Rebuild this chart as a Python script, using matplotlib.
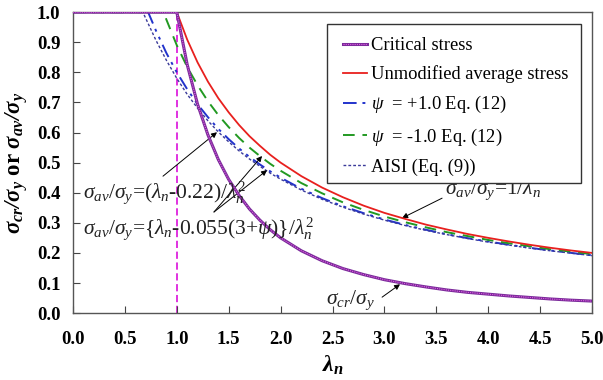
import matplotlib
matplotlib.use("Agg")
import matplotlib.pyplot as plt
from matplotlib.patches import Rectangle

plt.rcParams['font.family'] = ['Liberation Serif', 'DejaVu Serif']
plt.rcParams['mathtext.fontset'] = 'custom'
plt.rcParams['mathtext.rm'] = 'Liberation Serif'
plt.rcParams['mathtext.it'] = 'Liberation Serif:italic'
plt.rcParams['mathtext.bf'] = 'Liberation Serif:bold'
plt.rcParams['mathtext.bfit'] = 'Liberation Serif:italic:bold'

# ---- data ----
lam_main = [1.0, 1.1, 1.2, 1.3, 1.4, 1.5, 1.6, 1.7, 1.8, 1.9, 2.0,
            2.2, 2.4, 2.6, 2.8, 3.0, 3.2, 3.4, 3.6, 3.8, 4.0,
            4.2, 4.4, 4.6, 4.8, 5.0]

lam_cr = [0.0] + lam_main
critical = [1.000, 1.000, 0.826, 0.694, 0.592, 0.510, 0.444, 0.391, 0.346, 0.309, 0.277, 0.250,
            0.207, 0.174, 0.148, 0.128, 0.111, 0.098, 0.087, 0.077, 0.069, 0.063,
            0.057, 0.052, 0.047, 0.043, 0.040]

lam_un = [0.0] + lam_main
unmodified = [1.000, 1.000, 0.909, 0.833, 0.769, 0.714, 0.667, 0.625, 0.588, 0.556, 0.526, 0.500,
              0.455, 0.417, 0.385, 0.357, 0.333, 0.313, 0.294, 0.278, 0.263, 0.250,
              0.238, 0.227, 0.217, 0.208, 0.200]

lam_p1 = [0.0, 0.724, 0.8, 0.9] + lam_main
psi_plus = [1.000, 1.000, 0.938, 0.864, 0.800, 0.744, 0.694, 0.651, 0.612, 0.578, 0.547, 0.519, 0.494, 0.471, 0.450,
            0.413, 0.382, 0.355, 0.332, 0.311, 0.293, 0.277, 0.262, 0.249, 0.238,
            0.227, 0.217, 0.208, 0.200, 0.192]

lam_m1 = [0.0, 0.874, 0.9] + lam_main
psi_minus = [1.000, 1.000, 0.975, 0.890, 0.818, 0.757, 0.704, 0.658, 0.618, 0.582, 0.550, 0.522, 0.496, 0.473,
             0.432, 0.398, 0.368, 0.343, 0.321, 0.302, 0.285, 0.269, 0.256, 0.243,
             0.232, 0.222, 0.212, 0.204, 0.196]

lam_aisi = [0.0, 0.673, 0.7, 0.8, 0.9] + lam_main
aisi = [1.000, 1.000, 0.980, 0.906, 0.840, 0.780, 0.727, 0.681, 0.639, 0.602, 0.569, 0.539, 0.512, 0.488, 0.465, 0.445,
        0.409, 0.378, 0.352, 0.329, 0.309, 0.291, 0.275, 0.261, 0.248, 0.236,
        0.226, 0.216, 0.207, 0.199, 0.191]

xticks = [0.0, 0.5, 1.0, 1.5, 2.0, 2.5, 3.0, 3.5, 4.0, 4.5, 5.0]
yticks = [0.0, 0.1, 0.2, 0.3, 0.4, 0.5, 0.6, 0.7, 0.8, 0.9, 1.0]

# ---- figure ----
fig = plt.figure(figsize=(6.03, 3.80), dpi=100)
ax = fig.add_axes([0.121, 0.176, 0.861, 0.792])

ax.plot([1.0, 1.0], [0.0, 1.0], color='#DD22DD', lw=1.3, dashes=(4, 2), zorder=1)

cr1, = ax.plot(lam_cr, critical, color='#7A2A9A', lw=2.2, zorder=5)
cr2, = ax.plot(lam_cr, critical, color='#E060E0', lw=0.8, dashes=(1, 1), zorder=6)
un, = ax.plot(lam_un, unmodified, color='#E8201E', lw=1.3, zorder=4)
p1, = ax.plot(lam_p1, psi_plus, color='#2233CC', lw=1.4, dashes=(7, 3, 1.5, 3, 1.5, 3), zorder=3)
m1, = ax.plot(lam_m1, psi_minus, color='#229922', lw=1.4, dashes=(6, 4), zorder=3)
ai, = ax.plot(lam_aisi, aisi, color='#3A3A9A', lw=1.0, dashes=(2, 1.5), zorder=3)

ax.set_xlim(0, 5)
ax.set_ylim(0, 1)
ax.set_xticks(xticks)
ax.set_yticks(yticks)
ax.set_xticklabels([f'{v:.1f}' for v in xticks], fontsize=13.5, fontweight='bold')
ax.set_yticklabels([f'{v:.1f}' for v in yticks], fontsize=13.5, fontweight='bold')
ax.tick_params(axis='x', direction='in', length=5, width=0.8, pad=13, color='#444444')
ax.tick_params(axis='y', direction='in', length=5, width=0.8, pad=9, color='#444444')
for s in ax.spines.values():
    s.set_color('#555555')
    s.set_linewidth(1.0)

ax.set_xlabel(r'$\mathbfit{\lambda_n}$', fontsize=17, labelpad=4)
ax.set_ylabel(r'$\mathbfit{\sigma_{cr}/\sigma_y}$ or $\mathbfit{\sigma_{av}/\sigma_y}$',
              fontsize=16.5, fontweight='bold', labelpad=5)

leg = ax.legend([(cr1, cr2), un, p1, m1, ai],
                ['Critical stress', 'Unmodified average stress',
                 r'$\psi$  = +1.0 Eq. (12)', r'$\psi$  = -1.0 Eq. (12)', 'AISI (Eq. (9))'],
                loc='upper right', bbox_to_anchor=(0.979, 0.96), fontsize=13.3,
                frameon=False,
                handlelength=1.3, handletextpad=0.2, labelspacing=0.6, borderpad=0.7,
                borderaxespad=0)
ax.add_patch(Rectangle((0.489, 0.432), 0.490, 0.528, transform=ax.transAxes,
                       facecolor='white', edgecolor='#333333', lw=1.0, zorder=8))
leg.set_zorder(9)

arrow = dict(arrowstyle='-|>', color='black', lw=0.7, mutation_scale=8, shrinkA=0, shrinkB=0)
tfs = 15.5

ax.text(0.096, 0.40, r'$\sigma_{av}/\sigma_y$=($\lambda_n$-0.22)/$\lambda_n^2$',
        fontsize=tfs, color='#222222', va='center', ha='left', zorder=7)
ax.annotate('', xy=(1.387, 0.601), xytext=(0.867, 0.455), arrowprops=arrow)

ax.text(0.096, 0.282, r'$\sigma_{av}/\sigma_y$={$\lambda_n$-0.055(3+$\psi$)}/$\lambda_n^2$',
        fontsize=tfs, color='#222222', va='center', ha='left', zorder=7)
ax.annotate('', xy=(1.821, 0.522), xytext=(1.358, 0.336), arrowprops=arrow)
ax.annotate('', xy=(1.869, 0.475), xytext=(1.358, 0.336), arrowprops=arrow)

ax.text(3.584, 0.409, r'$\sigma_{av}/\sigma_y$=1/$\lambda_n$',
        fontsize=tfs, color='#222222', va='center', ha='left', zorder=7)
ax.annotate('', xy=(3.170, 0.316), xytext=(3.555, 0.382), arrowprops=arrow)

ax.text(2.437, 0.043, r'$\sigma_{cr}/\sigma_y$',
        fontsize=tfs, color='#222222', va='center', ha='left', zorder=7)
ax.annotate('', xy=(3.150, 0.096), xytext=(2.977, 0.053), arrowprops=arrow)

fig.savefig('out.png', dpi=100)
